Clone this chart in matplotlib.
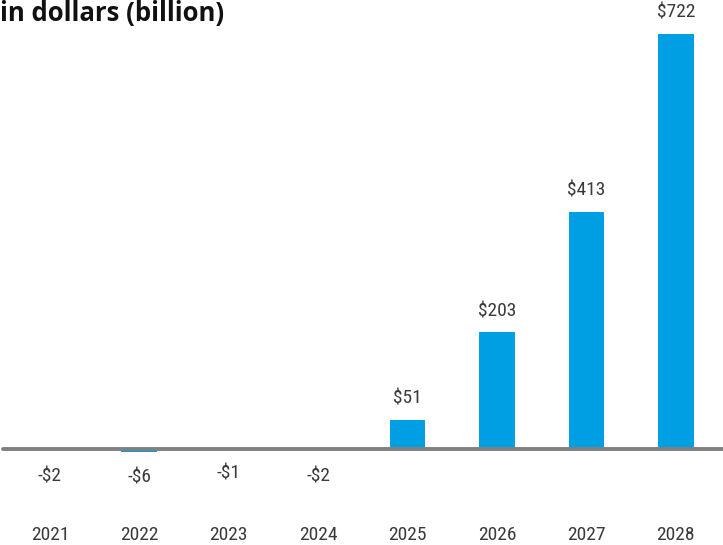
import matplotlib
matplotlib.use("Agg")
import matplotlib.pyplot as plt
from matplotlib import font_manager as fm

years = ["2021", "2022", "2023", "2024", "2025", "2026", "2027", "2028"]
values = [-2, -6, -1, -2, 51, 203, 413, 722]
labels = ["-$2", "-$6", "-$1", "-$2", "$51", "$203", "$413", "$722"]
title = "in dollars (billion)"

names = {f.name for f in fm.fontManager.ttflist}
cond = [n for n in ["Liberation Sans Narrow", "Roboto Condensed", "Roboto"] if n in names] + ["DejaVu Sans"]

fig = plt.figure(figsize=(7.23, 5.45), dpi=100)
ax = fig.add_axes([0, 0, 1, 1])
ax.set_xlim(-0.559, 7.528)
ax.set_ylim(-167, 781)
ax.axis("off")

x = list(range(len(years)))
ax.bar(x, values, width=0.4, color="#009FE3", zorder=1)
ax.plot([-0.53, 7.528], [0, 0], color="#808080", linewidth=2.8, zorder=2,
        solid_capstyle="round")

neg_y = {0: -47, 1: -50, 2: -42, 3: -47}
for xi, v, lab, yr in zip(x, values, labels, years):
    if v >= 0:
        ax.text(xi, v + 37, lab, ha="center", va="center", fontsize=14,
                color="#3a3a3a", family=cond)
    else:
        ax.text(xi, neg_y.get(xi, -47), lab, ha="center", va="center", fontsize=14,
                color="#3a3a3a", family=cond)
    ax.text(xi, -150, yr, ha="center", va="center", fontsize=14,
            color="#3a3a3a", family=cond)

fig.text(0.0, 1.0 - 21 / 545, title, ha="left", va="baseline", fontsize=18.5,
         fontweight="bold", color="#111111", family=["Open Sans", "DejaVu Sans"])

fig.savefig("out.png", dpi=100)
